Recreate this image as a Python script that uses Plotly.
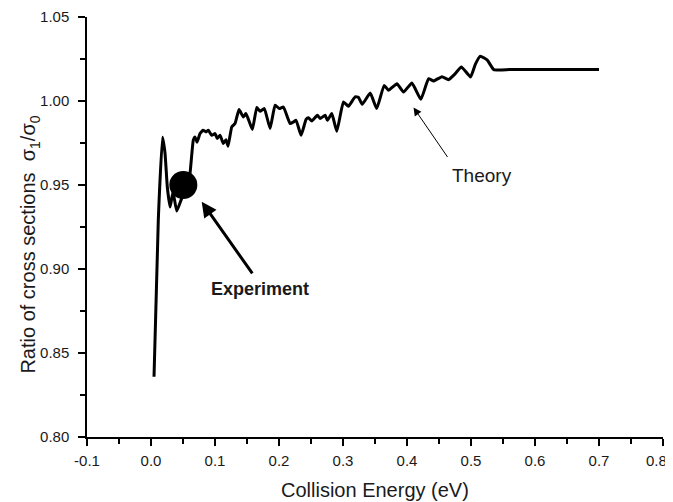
import plotly.graph_objects as go

# Theory curve: collision energy (eV) and ratio sigma1/sigma0
energy = [0.0047, 0.0114, 0.0180, 0.0219, 0.0255, 0.0298, 0.0344, 0.0402, 0.0469, 0.0578,
          0.0610, 0.0661, 0.0688, 0.0719, 0.0766, 0.0813, 0.0860, 0.0896, 0.0949, 0.1001,
          0.1036, 0.1079, 0.1130, 0.1171, 0.1204, 0.1262, 0.1313, 0.1376, 0.1443, 0.1481,
          0.1516, 0.1584, 0.1653, 0.1704, 0.1771, 0.1861, 0.1939, 0.2006, 0.2069, 0.2173,
          0.2225, 0.2267, 0.2345, 0.2423, 0.2460, 0.2513, 0.2600, 0.2643, 0.2721, 0.2757,
          0.2825, 0.2903, 0.3007, 0.3085, 0.3190, 0.3241, 0.3300, 0.3425, 0.3526, 0.3643,
          0.3710, 0.3842, 0.3946, 0.4077, 0.4217, 0.4337, 0.4415, 0.4546, 0.4649, 0.4754,
          0.4850, 0.4993, 0.5067, 0.5145, 0.5255, 0.5356, 0.5600, 0.6000, 0.7000]
ratio = [0.8359, 0.9292, 0.9784, 0.9689, 0.9488, 0.9369, 0.9458, 0.9345, 0.9410, 0.9517,
         0.9571, 0.9767, 0.9786, 0.9755, 0.9806, 0.9826, 0.9816, 0.9826, 0.9796, 0.9806,
         0.9777, 0.9796, 0.9747, 0.9770, 0.9731, 0.9846, 0.9866, 0.9949, 0.9905, 0.9925,
         0.9897, 0.9830, 0.9961, 0.9939, 0.9955, 0.9836, 0.9975, 0.9955, 0.9964, 0.9866,
         0.9875, 0.9885, 0.9796, 0.9890, 0.9901, 0.9881, 0.9915, 0.9896, 0.9915, 0.9885,
         0.9925, 0.9820, 0.9994, 0.9969, 1.0025, 1.0022, 0.9980, 1.0047, 0.9955, 1.0093,
         1.0064, 1.0103, 1.0053, 1.0107, 1.0010, 1.0133, 1.0119, 1.0145, 1.0127, 1.0163,
         1.0203, 1.0143, 1.0218, 1.0267, 1.0243, 1.0187, 1.0187, 1.0187, 1.0187]

# Experimental point
exp_energy = [0.0505]
exp_ratio = [0.950]

x_ticks = [-0.1, 0.0, 0.1, 0.2, 0.3, 0.4, 0.5, 0.6, 0.7, 0.8]
y_ticks = [0.80, 0.85, 0.90, 0.95, 1.00, 1.05]

FONT = "Liberation Sans, Arial, Helvetica, sans-serif"
TXT = "#1a1a1a"

fig = go.Figure()
fig.add_trace(go.Scatter(x=energy, y=ratio, mode="lines",
                         line=dict(color="black", width=3, shape="spline", smoothing=0.4),
                         showlegend=False))
fig.add_trace(go.Scatter(x=exp_energy, y=exp_ratio, mode="markers",
                         marker=dict(color="black", size=28), showlegend=False))

fig.add_annotation(x=0.4102, y=0.9961, ax=0.4649, ay=0.9658, axref="x", ayref="y",
                   xref="x", yref="y", text="", showarrow=True, arrowhead=2,
                   arrowsize=1.6, arrowwidth=1, arrowcolor="black")
fig.add_annotation(x=0.5168, y=0.9559, xref="x", yref="y", text="Theory",
                   showarrow=False, font=dict(family=FONT, size=19, color=TXT))
fig.add_annotation(x=0.0792, y=0.940, ax=0.1600, ay=0.8965, axref="x", ayref="y",
                   xref="x", yref="y", text="", showarrow=True, arrowhead=2,
                   arrowsize=1, arrowwidth=3, arrowcolor="black")
fig.add_annotation(x=0.1697, y=0.8880, xref="x", yref="y", text="<b>Experiment</b>",
                   showarrow=False, font=dict(family=FONT, size=18, color=TXT))

# Axis titles
fig.add_annotation(x=0.5, y=-0.127, xref="paper", yref="paper", xanchor="center",
                   yanchor="middle", text="Collision Energy (eV)", showarrow=False,
                   font=dict(family=FONT, size=20, color=TXT))
fig.add_annotation(x=-0.099, y=0.458, xref="paper", yref="paper", xanchor="center",
                   yanchor="middle", textangle=-90,
                   text="Ratio of cross sections  σ<sub>1</sub>/σ<sub>0</sub>",
                   showarrow=False, font=dict(family=FONT, size=20, color=TXT))

# Last x tick label sits at the right edge; draw it so it stays fully visible
x_ticktext = [f"{v:.1f}" for v in x_ticks]
fig.add_annotation(x=1, y=0, xref="paper", yref="paper", xanchor="right",
                   yanchor="middle", xshift=6, yshift=-23, text=x_ticktext[-1],
                   showarrow=False, font=dict(family=FONT, size=15, color=TXT))
x_ticktext[-1] = ""

# The page body adds an 8px offset, so the figure is sized to fit the window.
fig.update_layout(
    width=665, height=494,
    margin=dict(l=79, r=10, t=9, b=64.5, autoexpand=False),
    paper_bgcolor="white", plot_bgcolor="white",
    font=dict(family=FONT, color=TXT, size=15),
    xaxis=dict(range=[-0.1, 0.8], tickvals=x_ticks, automargin=False,
               ticktext=x_ticktext,
               showgrid=False, zeroline=False, showline=True, linecolor="black",
               linewidth=1.5, ticks="outside", ticklen=7, tickwidth=1.5, tickcolor="black",
               minor=dict(dtick=0.05, ticks="outside", ticklen=5, tickwidth=1.5,
                          tickcolor="black", showgrid=False),
               ticklabelstandoff=2, ticklabeloverflow="allow",
               tickfont=dict(size=15, color=TXT)),
    yaxis=dict(range=[0.80, 1.05], tickvals=y_ticks, automargin=False,
               ticktext=[f"{v:.2f}" for v in y_ticks],
               showgrid=False, zeroline=False, showline=True, linecolor="black",
               linewidth=1.5, ticks="outside", ticklen=7, tickwidth=1.5, tickcolor="black",
               minor=dict(dtick=0.025, ticks="outside", ticklen=5, tickwidth=1.5,
                          tickcolor="black", showgrid=False),
               ticklabelstandoff=6, ticklabeloverflow="allow",
               tickfont=dict(size=15, color=TXT)),
)

fig.write_html("out.html")
